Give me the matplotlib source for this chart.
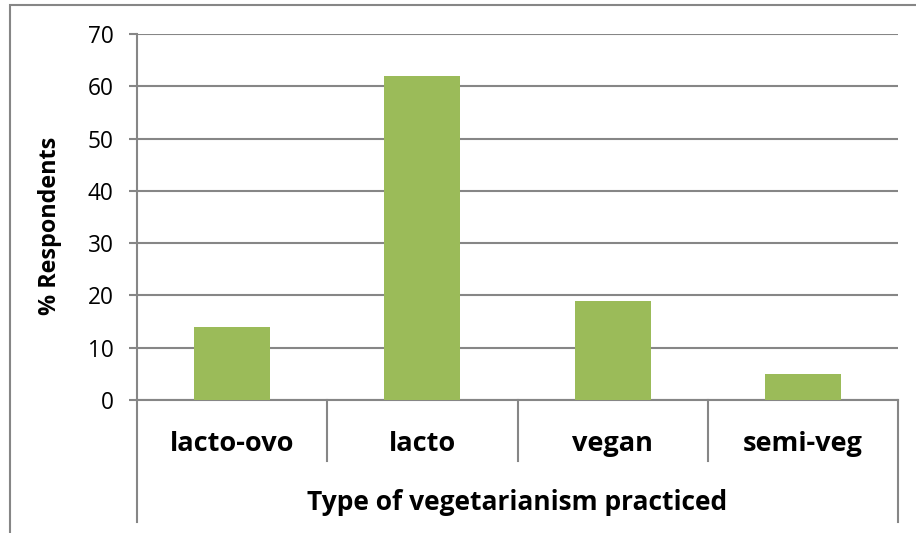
import matplotlib
matplotlib.use("Agg")
import matplotlib.pyplot as plt
from matplotlib.patches import Rectangle
from matplotlib import transforms

categories = ["lacto-ovo", "lacto", "vegan", "semi-veg"]
values = [14, 62, 19, 5]
yticks = [0, 10, 20, 30, 40, 50, 60, 70]

W, H = 916, 533
fig = plt.figure(figsize=(W / 100, H / 100), dpi=100)
plt.rcParams['font.family'] = ['Open Sans', 'DejaVu Sans']

gray = "#868686"
green = "#9BBB59"

# outer chart border (cropped on right/bottom)
fig.patches.append(Rectangle((10 / W, -0.1), 1.2, (H - 5) / H + 0.1, transform=fig.transFigure,
                             fill=False, edgecolor=gray, lw=1.5))

left, right, top, bottom = 137, 898, 34, 400
ax = fig.add_axes([left / W, (H - bottom) / H, (right - left) / W, (bottom - top) / H])
ax.bar(range(len(categories)), values, width=0.4, color=green, zorder=3)
ax.set_xlim(-0.5, len(categories) - 0.5)
ax.set_ylim(0, 70)
ax.set_yticks(yticks)
ax.yaxis.grid(True, color=gray, lw=1.5, zorder=0)
ax.set_xticks([])
for s in ["top", "right"]:
    ax.spines[s].set_visible(False)
ax.spines["left"].set_color(gray)
ax.spines["left"].set_linewidth(1.5)
ax.spines["bottom"].set_color(gray)
ax.spines["bottom"].set_linewidth(1.5)
ax.tick_params(axis="y", length=5.8, width=1.5, color=gray, labelsize=16.3, pad=11)

ph = bottom - top
tr = transforms.blended_transform_factory(ax.transData, ax.transAxes)
n = len(categories)
for i in range(n + 1):
    x = i - 0.5
    yend = (bottom - 522) / ph if i in (0, n) else (bottom - 461) / ph
    ax.plot([x, x], [0, yend], transform=tr, color=gray, lw=1.5, clip_on=False)

for i, c in enumerate(categories):
    ax.text(i, (bottom - 451) / ph, c, transform=tr, ha="center", va="baseline",
            fontsize=19.5, fontweight="bold")

ax.text(0.5, (bottom - 510) / ph, "Type of vegetarianism practiced", transform=ax.transAxes,
        ha="center", va="baseline", fontsize=19, fontweight="bold")
fig.text(50 / W, 1 - 225.5 / H, "% Respondents", rotation=90, ha="center", va="center",
         fontsize=16.8, fontweight="bold")

fig.savefig("out.png", dpi=100)
